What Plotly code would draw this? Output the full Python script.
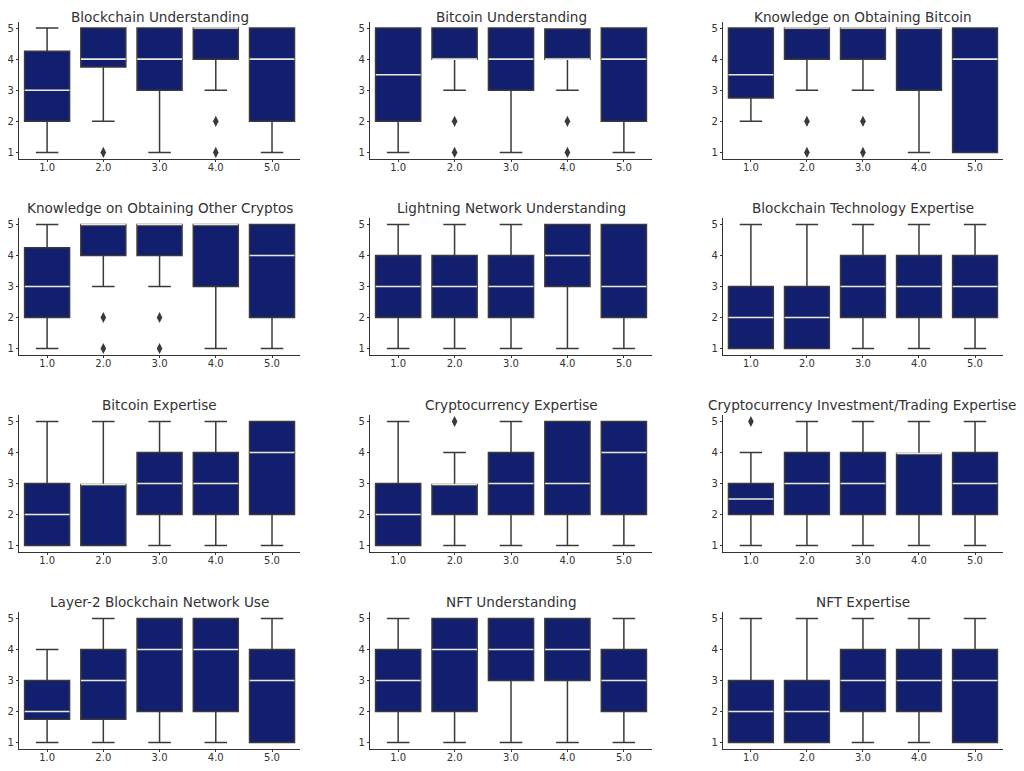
import plotly.graph_objects as go

# answer levels on the x axis
categories = ["1.0", "2.0", "3.0", "4.0", "5.0"]

titles = [
    "Blockchain Understanding", "Bitcoin Understanding", "Knowledge on Obtaining Bitcoin",
    "Knowledge on Obtaining Other Cryptos", "Lightning Network Understanding", "Blockchain Technology Expertise",
    "Bitcoin Expertise", "Cryptocurrency Expertise", "Cryptocurrency Investment/Trading Expertise",
    "Layer-2 Blockchain Network Use", "NFT Understanding", "NFT Expertise",
]

# box stats, one list per panel
low = [
    [1, 2, 1, 3, 1], [1, 3, 1, 3, 1], [2, 3, 3, 1, 1], [1, 3, 3, 1, 1],
    [1, 1, 1, 1, 1], [1, 1, 1, 1, 1], [1, 1, 1, 1, 1], [1, 1, 1, 1, 1],
    [1, 1, 1, 1, 1], [1, 1, 1, 1, 1], [1, 1, 1, 1, 1], [1, 1, 1, 1, 1],
]
q1 = [
    [2, 3.75, 3, 4, 2], [2, 4, 3, 4, 2], [2.75, 4, 4, 3, 1], [2, 4, 4, 3, 2],
    [2, 2, 2, 3, 2], [1, 1, 2, 2, 2], [1, 1, 2, 2, 2], [1, 2, 2, 2, 2],
    [2, 2, 2, 2, 2], [1.75, 1.75, 2, 2, 1], [2, 2, 3, 3, 2], [1, 1, 2, 2, 1],
]
med = [
    [3, 4, 4, 5, 4], [3.5, 4, 4, 4, 4], [3.5, 5, 5, 5, 4], [3, 5, 5, 5, 4],
    [3, 3, 3, 4, 3], [2, 2, 3, 3, 3], [2, 2.97, 3, 3, 4], [2, 2.97, 3, 3, 4],
    [2.5, 3, 3, 3.97, 3], [2, 3, 4, 4, 3], [3, 4, 4, 4, 3], [2, 2, 3, 3, 3],
]
q3 = [
    [4.25, 5, 5, 5, 5], [5, 5, 5, 4.97, 5], [5, 5, 5, 5, 5], [4.25, 5, 5, 5, 5],
    [4, 4, 4, 5, 5], [3, 3, 4, 4, 4], [3, 2.97, 4, 4, 5], [3, 2.97, 4, 5, 5],
    [3, 4, 4, 3.97, 4], [3, 4, 5, 5, 4], [4, 5, 5, 5, 4], [3, 3, 4, 4, 4],
]
high = [
    [5, 5, 5, 5, 5], [5, 5, 5, 4.97, 5], [5, 5, 5, 5, 5], [5, 5, 5, 5, 5],
    [5, 5, 5, 5, 5], [5, 5, 5, 5, 5], [5, 5, 5, 5, 5], [5, 4, 5, 5, 5],
    [4, 5, 5, 5, 5], [4, 5, 5, 5, 5], [5, 5, 5, 5, 5], [5, 5, 5, 5, 5],
]
# fliers
out_x = [
    ["2.0", "4.0", "4.0"], ["2.0", "2.0", "4.0", "4.0"], ["2.0", "2.0", "3.0", "3.0"], ["2.0", "2.0", "3.0", "3.0"],
    [], [], [], ["2.0"], ["1.0"], [], [], [],
]
out_y = [
    [1, 2, 1], [2, 1, 2, 1], [2, 1, 2, 1], [2, 1, 2, 1],
    [], [], [], [5], [5], [], [], [],
]

FILL = "#111f6e"
EDGE = "#3a3a3a"
TXT = "#333333"
FONT = "DejaVu Sans"

# page has an 8px body margin, so work in window pixels and shift
OFF = 8
W, H = 1024 - 2 * OFF, 771 - 2 * OFF
cols_px = [(16, 298), (368, 651), (722, 1003)]
rows_px = [(21.5, 159), (218, 355), (415, 552), (612, 749)]

fig = go.Figure()

for k in range(12):
    r, c = k // 3, k % 3
    sfx = "" if k == 0 else str(k + 1)
    xa, ya = "x" + sfx, "y" + sfx

    fig.add_trace(go.Box(
        x=categories, q1=q1[k], median=med[k], q3=q3[k],
        lowerfence=low[k], upperfence=high[k],
        fillcolor=FILL, line=dict(color=EDGE, width=1.5),
        width=0.8, whiskerwidth=0.5, boxpoints=False,
        xaxis=xa, yaxis=ya, showlegend=False, hoverinfo="skip"))
    # white median lines
    fig.add_trace(go.Scatter(
        x=categories, y=med[k], mode="markers",
        marker=dict(symbol="line-ew", size=32, line=dict(color="#e6e6e6", width=1.6)),
        xaxis=xa, yaxis=ya, showlegend=False, hoverinfo="skip"))
    if out_x[k]:
        fig.add_trace(go.Scatter(
            x=out_x[k], y=out_y[k], mode="markers",
            marker=dict(symbol="diamond-tall", size=8, color=EDGE),
            xaxis=xa, yaxis=ya, showlegend=False, hoverinfo="skip"))

    x0, x1 = [v - OFF for v in cols_px[c]]
    y0, y1 = [v - OFF for v in rows_px[r]]
    ax = dict(showline=True, linecolor=TXT, linewidth=1, ticks="outside", ticklen=2,
              tickcolor=TXT, showgrid=False, zeroline=False,
              tickfont=dict(size=10, color=TXT, family=FONT))
    fig.layout["xaxis" + sfx] = dict(ax, domain=[x0 / W, x1 / W], anchor=ya,
                                     type="category", categoryarray=categories,
                                     range=[-0.5, 4.5], ticklabelstandoff=-3)
    fig.layout["yaxis" + sfx] = dict(ax, domain=[1 - y1 / H, 1 - y0 / H], anchor=xa,
                                     range=[0.79, 5.21], tickvals=[1, 2, 3, 4, 5])
    if r == 0:
        # top row titles would be clipped at the figure edge
        ty, tanchor = 1.0, "top"
    else:
        ty, tanchor = 1 - (y0 - 10) / H, "middle"
    fig.add_annotation(text=titles[k], xref="paper", yref="paper",
                       x=(x0 + x1) / 2 / W, y=ty, borderpad=0,
                       xanchor="center", yanchor=tanchor, showarrow=False,
                       font=dict(size=13.6, color=TXT, family=FONT))

fig.update_layout(width=W, height=H, margin=dict(l=0, r=0, t=0, b=0),
                  plot_bgcolor="white", paper_bgcolor="white",
                  font=dict(family=FONT, color=TXT))

fig.write_html("out.html")
